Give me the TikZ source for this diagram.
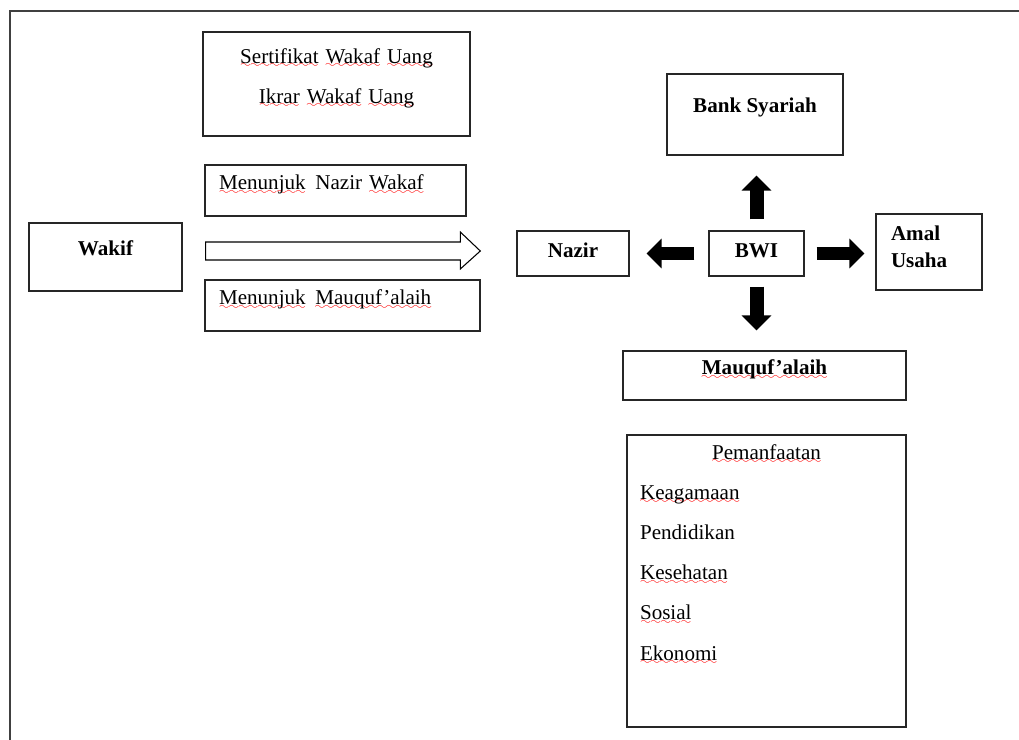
\documentclass[tikz,border=0pt]{standalone}
\usepackage{fontspec}
\setmainfont{Liberation Serif}
\usetikzlibrary{arrows.meta,calc}

\font\wlwave=lasy6
\newcommand\wl[1]{\leavevmode\setbox0\hbox{#1}\rlap{\textcolor{red}{\lower2.5pt\hbox to\wd0{\xleaders\hbox{\wlwave\char58}\hfil}}}\box0\relax}

\begin{document}
\begin{tikzpicture}[x=0.02cm,y=-0.02cm,line join=miter,
  box/.style={draw=black!85,line width=0.8pt,font=\fontsize{12}{14.5}\selectfont,text height=0.3cm},
  boldbox/.style={box,font=\fontsize{12}{15.4}\selectfont\bfseries},
  blockarrow/.style={line width=0.28cm,-{Triangle[length=0.3cm,width=0.58cm]}}]
  \useasboundingbox (0,0) rectangle (1019,740);
  \draw[line width=1pt,black!75] (10,740) -- (10,11) -- (1019,11);
  % left side
  \node[boldbox,minimum width=3.06cm,minimum height=1.36cm,text depth=0.38cm] (wakif) at (105.5,257) {Wakif};
  \node[box,minimum height=2.08cm,text depth=1.14cm,inner xsep=0.2cm,text width=4.94cm,align=center] (sertifikat) at (336.5,84)
    {\wl{Sertifikat} \wl{Wakaf} \wl{Uang}\\[8.3pt]\wl{Ikrar} \wl{Wakaf} \wl{Uang}};
  \node[box,minimum height=1.02cm,text depth=0.32cm,inner xsep=0.28cm,text width=4.66cm,align=left] (nazirwakaf) at (335.5,190.5)
    {\wl{Menunjuk}\hspace{1.5pt} Nazir \wl{Wakaf}};
  \node[box,minimum height=1.02cm,text depth=0.32cm,inner xsep=0.28cm,text width=4.94cm,align=left] (pilihmauquf) at (342.5,305.5)
    {\wl{Menunjuk}\hspace{1.5pt} \wl{Mauquf’alaih}};
  \coordinate (hs) at ($(wakif.east)+(23,-6)$);
  % right side
  \node[boldbox,minimum width=2.24cm,minimum height=0.9cm,text depth=0.12cm] (nazir) at (573,253.5) {Nazir};
  \node[boldbox,minimum width=1.9cm,minimum height=0.9cm,text depth=0.12cm] (bwi) at (756.5,253.5) {BWI};
  \node[boldbox,minimum width=3.52cm,minimum height=1.62cm,text depth=0.36cm] (bank) at (755,114.5) {Bank Syariah};
  \node[boldbox,minimum height=1.52cm,text depth=0.78cm,inner xsep=0.3cm,text width=1.52cm,align=left] (amal) at (929,252)
    {Amal\\Usaha};
  \node[boldbox,minimum width=5.66cm,minimum height=0.98cm,text depth=0.32cm] (mauquf) at (764.5,375.5) {\wl{Mauquf’alaih}};
  \node[box,font=\fontsize{12}{22.9}\selectfont,minimum height=5.84cm,text depth=5.18cm,inner xsep=0.26cm,text width=5.06cm,align=left] (manfaat) at (766.5,581)
    {\makebox[\hsize]{\wl{Pemanfaatan}}\\
     \wl{Keagamaan}\\
     Pendidikan\\
     \wl{Kesehatan}\\
     \wl{Sosial}\\
     \wl{Ekonomi}};
  \coordinate (he) at ($(nazir.west)+(-36,-2.5)$);
  % hollow arrow
  \draw[line width=0.6pt] ($(hs)+(0,-9)$) -- ($(he)+(-20,-9)$) -- ($(he)+(-20,-19)$) -- (he)
    -- ($(he)+(-20,18)$) -- ($(he)+(-20,9)$) -- ($(hs)+(0,9)$) -- cycle;
  % block arrows
  \draw[blockarrow,shorten <=0.22cm,shorten >=0.4cm] (bwi.north) -- (bwi.north |- bank.south);
  \draw[blockarrow,shorten <=0.28cm,shorten >=0.34cm] (bwi.west) -- (nazir.east);
  \draw[blockarrow,shorten <=0.24cm,shorten >=0.22cm] (bwi.east) -- (bwi.east -| amal.west);
  \draw[blockarrow,shorten <=0.2cm,shorten >=0.4cm] (bwi.south) -- (bwi.south |- mauquf.north);
\end{tikzpicture}
\end{document}
